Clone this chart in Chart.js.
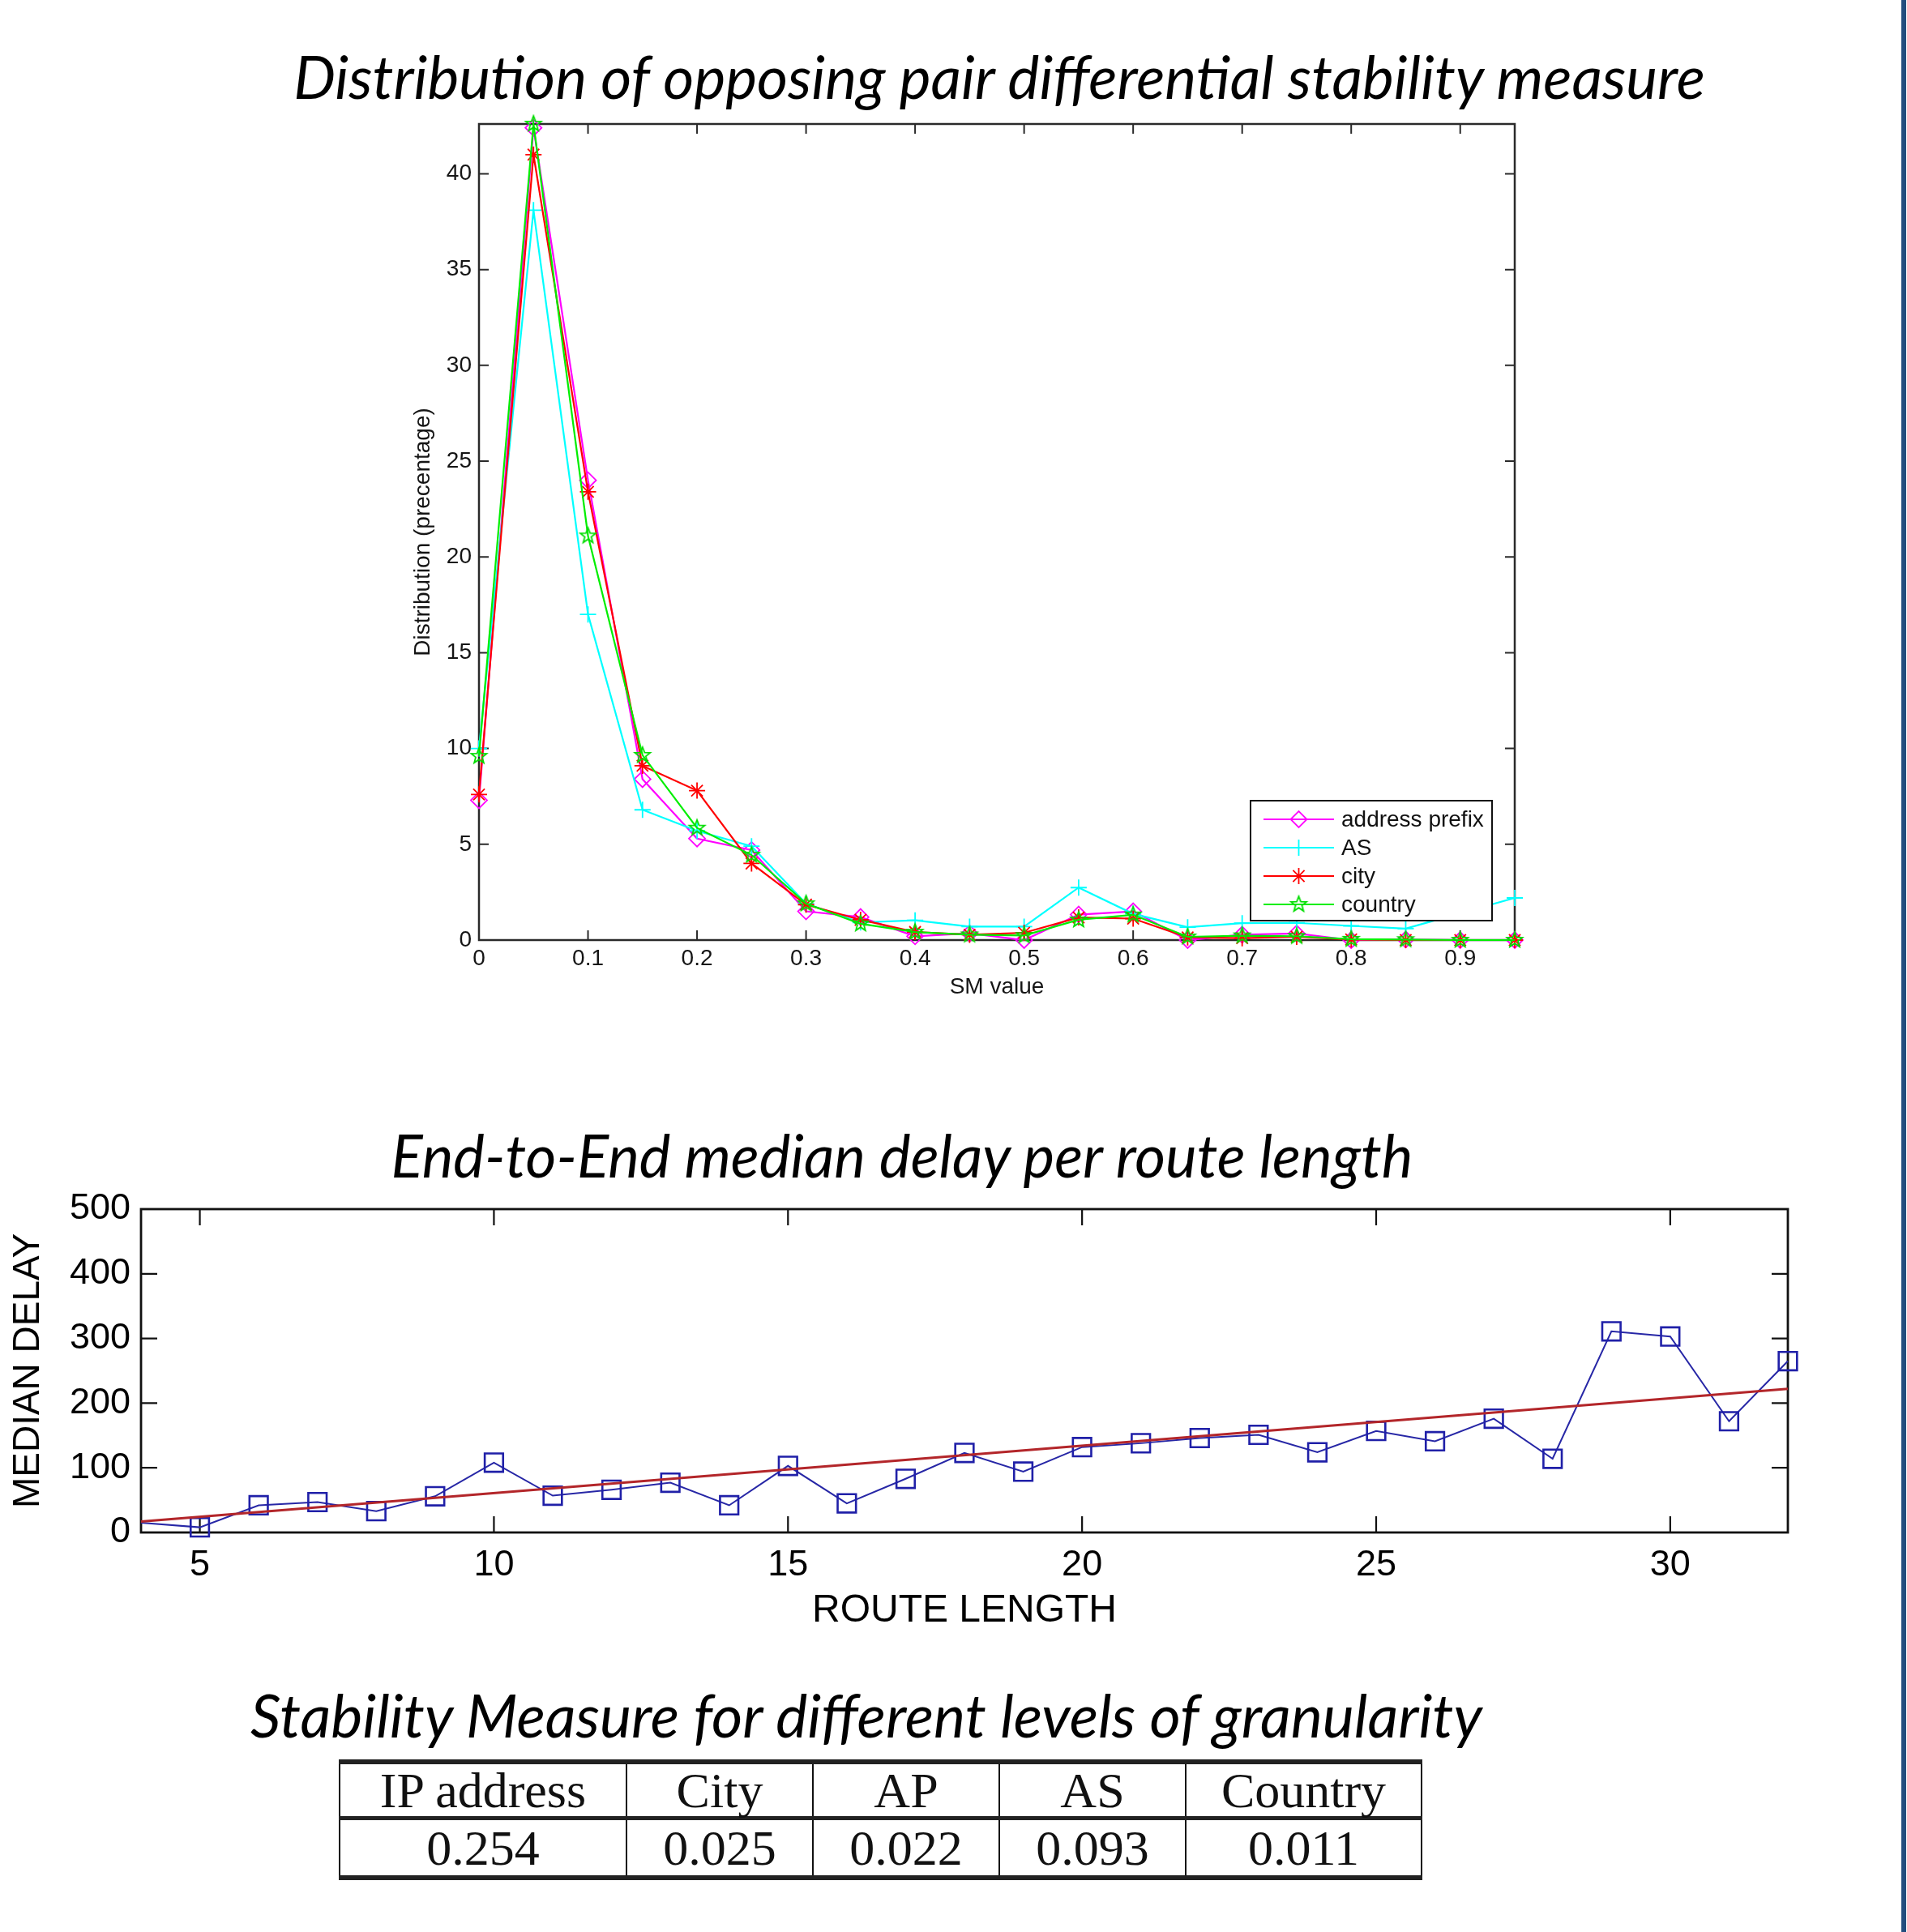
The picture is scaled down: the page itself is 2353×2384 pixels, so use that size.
<!DOCTYPE html>
<html>
<head>
<meta charset="utf-8">
<script src="https://cdn.jsdelivr.net/npm/chart.js@4.4.1/dist/chart.umd.min.js"></script>
<style>
html,body{margin:0;padding:0;background:#fff;}
#page{position:relative;width:2353px;height:2384px;overflow:hidden;background:#fff;}
.ttl{position:absolute;white-space:nowrap;font-family:Lato,'Open Sans',sans-serif;font-style:italic;font-weight:400;color:#000;transform:translate(-50%,-50%);line-height:1.2;}
canvas{position:absolute;left:0;}
#c1{top:0;}
#c2{top:1370px;}
#bar{position:absolute;left:2346px;top:0;width:6px;height:2384px;background:#234d7e;}
#smTable{position:absolute;left:418px;top:2171px;border-collapse:collapse;table-layout:fixed;width:1335px;
  font-family:'Liberation Serif','Times New Roman',serif;font-size:62px;color:#111;
  border-top:6px solid #222;border-bottom:6px solid #222;}
#smTable td{border-left:2.5px solid #111;border-right:2.5px solid #111;text-align:center;padding:0;line-height:1;vertical-align:middle;}
#smTable tr.hdr td{height:64px;border-bottom:5px solid #222;}
#smTable tr.val td{height:68px;}
</style>
</head>
<body>
<div id="page">
  <div class="ttl" id="t1" style="left:1233px;top:94px;" data-w="1742"></div>
  <canvas id="c1" width="2353" height="1270" style="width:2353px;height:1270px;"></canvas>
  <div class="ttl" id="t2" style="left:1113px;top:1426px;" data-w="1261"></div>
  <canvas id="c2" width="2353" height="680" style="width:2353px;height:680px;"></canvas>
  <div class="ttl" id="t3" style="left:1069px;top:2116px;" data-w="1520"></div>
  <table id="smTable"></table>
  <div id="bar"></div>
</div>
<script>
// ---------------- DATA ----------------
const title1 = 'Distribution of opposing pair differential stability measure';
const title2 = 'End-to-End median delay per route length';
const title3 = 'Stability Measure for different levels of granularity';

const smX = [0, 0.05, 0.1, 0.15, 0.2, 0.25, 0.3, 0.35, 0.4, 0.45, 0.5, 0.55, 0.6, 0.65, 0.7, 0.75, 0.8, 0.85, 0.9, 0.95];
const addressPrefix = [7.3, 42.4, 24.0, 8.4, 5.3, 4.7, 1.5, 1.2, 0.2, 0.35, 0.0, 1.33, 1.5, 0.0, 0.28, 0.34, 0.0, 0.03, 0.0, 0.0];
const asLevel       = [10.0, 38.1, 17.0, 6.8, 5.7, 4.9, 1.9, 0.92, 1.03, 0.7, 0.7, 2.74, 1.37, 0.67, 0.88, 0.9, 0.74, 0.6, 1.4, 2.2];
const city          = [7.6, 41.0, 23.4, 9.1, 7.8, 4.0, 1.85, 1.06, 0.42, 0.28, 0.38, 1.18, 1.12, 0.14, 0.1, 0.17, 0.03, 0.0, 0.0, 0.0];
const country       = [9.6, 42.6, 21.1, 9.65, 5.85, 4.44, 1.9, 0.85, 0.42, 0.28, 0.24, 1.06, 1.32, 0.17, 0.23, 0.2, 0.05, 0.03, 0.0, 0.0];
const seriesNames   = ['address prefix', 'AS', 'city', 'country'];
const smXTicks      = [0, 0.1, 0.2, 0.3, 0.4, 0.5, 0.6, 0.7, 0.8, 0.9];
const smXTickLabels = ['0', '0.1', '0.2', '0.3', '0.4', '0.5', '0.6', '0.7', '0.8', '0.9'];
const distYTicks    = [0, 5, 10, 15, 20, 25, 30, 35, 40];
const distYTickLabels = ['0', '5', '10', '15', '20', '25', '30', '35', '40'];

const routeLength = [4, 5, 6, 7, 8, 9, 10, 11, 12, 13, 14, 15, 16, 17, 18, 19, 20, 21, 22, 23, 24, 25, 26, 27, 28, 29, 30, 31, 32];
const medianDelay = [15, 8, 42, 47, 33, 56, 108, 57, 66, 77, 42, 103, 45, 83, 123, 94, 132, 138, 146, 151, 124, 157, 141, 176, 114, 311, 303, 172, 265];
const trendX = [4, 32];
const trendY = [17, 222];
const routeXTicks = [5, 10, 15, 20, 25, 30];
const routeXTickLabels = ['5', '10', '15', '20', '25', '30'];
const delayYTicks = [0, 100, 200, 300, 400, 500];
const delayYTickLabels = ['0', '100', '200', '300', '400', '500'];

const granLevels = ['IP address', 'City', 'AP', 'AS', 'Country'];
const smValues   = ['0.254', '0.025', '0.022', '0.093', '0.011'];

// ---------------- TEXT ----------------
document.getElementById('t1').textContent = title1;
document.getElementById('t2').textContent = title2;
document.getElementById('t3').textContent = title3;
document.querySelectorAll('.ttl').forEach(el => {
  el.style.fontSize = '100px';
  const w = el.getBoundingClientRect().width;
  el.style.fontSize = (100 * (+el.dataset.w) / w).toFixed(2) + 'px';
});

// table
(function () {
  const tb = document.getElementById('smTable');
  const cg = document.createElement('colgroup');
  [354, 230, 230, 230, 291].forEach(w => { const c = document.createElement('col'); c.style.width = w + 'px'; cg.appendChild(c); });
  tb.appendChild(cg);
  const r1 = document.createElement('tr'); r1.className = 'hdr';
  granLevels.forEach(t => { const td = document.createElement('td'); td.textContent = t; r1.appendChild(td); });
  const r2 = document.createElement('tr'); r2.className = 'val';
  smValues.forEach(t => { const td = document.createElement('td'); td.textContent = t; r2.appendChild(td); });
  tb.appendChild(r1); tb.appendChild(r2);
})();

// ---------------- HELPERS ----------------
Chart.defaults.font.family = "'Liberation Sans', Arial, sans-serif";
const toXY = (xs, ys) => xs.map((x, i) => ({ x: x, y: ys[i] }));

function pentagram(color, r, lw) {
  const s = Math.ceil(2 * r + 2 * lw + 2);
  const c = document.createElement('canvas');
  c.width = s; c.height = s;
  const g = c.getContext('2d');
  g.strokeStyle = color; g.lineWidth = lw; g.lineJoin = 'miter';
  g.beginPath();
  for (let i = 0; i < 10; i++) {
    const ang = -Math.PI / 2 + i * Math.PI / 5;
    const rr = (i % 2 === 0) ? r : r * 0.42;
    g.lineTo(s / 2 + rr * Math.cos(ang), s / 2 + rr * Math.sin(ang));
  }
  g.closePath(); g.stroke();
  return c;
}

const framePlugin = {
  id: 'frame',
  beforeDatasetsDraw(chart, args, o) {
    const { ctx, chartArea: a } = chart;
    const xs = chart.scales.x, ys = chart.scales.y;
    ctx.save();
    ctx.strokeStyle = o.color;
    ctx.lineWidth = o.tickWidth;
    ctx.beginPath();
    xs.ticks.forEach(t => {
      const p = xs.getPixelForValue(t.value);
      ctx.moveTo(p, a.bottom); ctx.lineTo(p, a.bottom - o.tickLen);
      ctx.moveTo(p, a.top); ctx.lineTo(p, a.top + o.tickLen);
    });
    ys.ticks.forEach(t => {
      const p = ys.getPixelForValue(t.value);
      ctx.moveTo(a.left, p); ctx.lineTo(a.left + o.tickLen, p);
      ctx.moveTo(a.right, p); ctx.lineTo(a.right - o.tickLen, p);
    });
    ctx.stroke();
    ctx.lineWidth = o.width;
    ctx.strokeRect(a.left, a.top, a.right - a.left, a.bottom - a.top);
    ctx.restore();
  }
};

const boxLegend = {
  id: 'boxLegend',
  afterDatasetsDraw(chart, args, o) {
    const { ctx, chartArea: a } = chart;
    const bx = a.right - o.offRight - o.w, by = a.bottom - o.offBottom - o.h;
    ctx.save();
    ctx.fillStyle = '#fff';
    ctx.fillRect(bx, by, o.w, o.h);
    ctx.strokeStyle = '#111'; ctx.lineWidth = 2;
    ctx.strokeRect(bx, by, o.w, o.h);
    ctx.font = o.font;
    ctx.textBaseline = 'middle'; ctx.textAlign = 'left';
    chart.data.datasets.forEach((ds, i) => {
      const cy = by + o.firstRow + i * o.rowGap;
      ctx.strokeStyle = ds.borderColor; ctx.lineWidth = ds.borderWidth;
      ctx.beginPath(); ctx.moveTo(bx + o.lineX0, cy); ctx.lineTo(bx + o.lineX1, cy); ctx.stroke();
      ctx.fillStyle = 'rgba(0,0,0,0)';
      ctx.lineWidth = ds.pointBorderWidth;
      Chart.helpers.drawPoint(ctx, { pointStyle: ds.pointStyle, radius: ds.pointRadius, rotation: 0, borderWidth: ds.pointBorderWidth }, bx + (o.lineX0 + o.lineX1) / 2, cy);
      ctx.fillStyle = '#111';
      ctx.fillText(ds.label, bx + o.textX, cy + 1);
    });
    ctx.restore();
  }
};

// ---------------- CHART 1 ----------------
const mk = (label, ys, color, style, order) => ({
  label: label, data: toXY(smX, ys), borderColor: color, backgroundColor: 'rgba(0,0,0,0)',
  borderWidth: 2.2, pointStyle: style, pointRadius: 10, pointBorderColor: color,
  pointBackgroundColor: 'rgba(0,0,0,0)', pointBorderWidth: 1.8, tension: 0, clip: false, order: order
});
const tickFont1 = { family: "'Liberation Sans', Arial, sans-serif", size: 28 };

new Chart(document.getElementById('c1'), {
  type: 'line',
  data: {
    datasets: [
      mk(seriesNames[0], addressPrefix, '#ff00ff', 'rectRot', 3),
      mk(seriesNames[1], asLevel, '#00ffff', 'cross', 2),
      mk(seriesNames[2], city, '#ff0000', 'star', 1),
      mk(seriesNames[3], country, '#00ee00', pentagram('#00dd00', 10, 1.8), 0)
    ]
  },
  options: {
    responsive: false, animation: false, devicePixelRatio: 1, events: [],
    layout: { padding: { left: 491, right: 484, top: 153, bottom: 30 } },
    plugins: {
      legend: { display: false }, tooltip: { enabled: false },
      frame: { color: '#2a2a2a', width: 2.5, tickWidth: 2, tickLen: 12 },
      boxLegend: { w: 298, h: 148, offRight: 28, offBottom: 24, firstRow: 23, rowGap: 35,
                   lineX0: 16, lineX1: 103, textX: 112, font: "28px 'Liberation Sans', Arial, sans-serif" }
    },
    scales: {
      x: {
        type: 'linear', min: 0, max: 0.95,
        afterBuildTicks: s => { s.ticks = smXTicks.map(v => ({ value: v })); },
        afterFit: s => { s.height = 80; },
        grid: { display: false, drawTicks: false }, border: { display: false },
        ticks: { padding: 6, color: '#151515', font: tickFont1, maxRotation: 0, autoSkip: false,
                 callback: (v, i) => smXTickLabels[i] },
        title: { display: true, text: 'SM value', color: '#151515', font: tickFont1, padding: { top: 0, bottom: 5 } }
      },
      y: {
        type: 'linear', min: 0, max: 42.6,
        afterBuildTicks: s => { s.ticks = distYTicks.map(v => ({ value: v })); },
        afterFit: s => { s.width = 100; },
        grid: { display: false, drawTicks: false }, border: { display: false },
        ticks: { padding: 9, color: '#151515', font: tickFont1, autoSkip: false,
                 callback: (v, i) => distYTickLabels[i] },
        title: { display: true, text: 'Distribution (precentage)', color: '#151515', font: tickFont1, padding: { top: 14, bottom: 0 } }
      }
    }
  },
  plugins: [framePlugin, boxLegend]
});

// ---------------- CHART 2 ----------------
const tickFont2 = { family: "'Liberation Sans', Arial, sans-serif", size: 45 };
new Chart(document.getElementById('c2'), {
  type: 'line',
  data: {
    datasets: [
      { label: 'median delay', data: toXY(routeLength, medianDelay), borderColor: '#2727a6', backgroundColor: 'rgba(0,0,0,0)',
        borderWidth: 2, pointStyle: 'rect',
        pointRadius: c => (c.raw && c.raw.x === routeLength[0]) ? 0 : 16,
        pointBorderColor: '#2020a8', pointBackgroundColor: 'rgba(0,0,0,0)', pointBorderWidth: 2.6,
        tension: 0, clip: false, order: 1 },
      { label: 'linear fit', data: toXY(trendX, trendY), borderColor: '#b3262a', backgroundColor: 'rgba(0,0,0,0)',
        borderWidth: 3, pointRadius: 0, tension: 0, clip: false, order: 0 }
    ]
  },
  options: {
    responsive: false, animation: false, devicePixelRatio: 1, events: [],
    layout: { padding: { left: 0, right: 147, top: 122, bottom: 29 } },
    plugins: {
      legend: { display: false }, tooltip: { enabled: false },
      frame: { color: '#111', width: 2.8, tickWidth: 2.2, tickLen: 20 }
    },
    scales: {
      x: {
        type: 'linear', min: 4, max: 32,
        afterBuildTicks: s => { s.ticks = routeXTicks.map(v => ({ value: v })); },
        afterFit: s => { s.height = 130; },
        grid: { display: false, drawTicks: false }, border: { display: false },
        ticks: { padding: 14, color: '#000', font: tickFont2, maxRotation: 0, autoSkip: false,
                 callback: (v, i) => routeXTickLabels[i] },
        title: { display: true, text: 'ROUTE LENGTH', color: '#000', font: { family: "'Liberation Sans', Arial, sans-serif", size: 48 }, padding: { top: 0, bottom: 4 } }
      },
      y: {
        type: 'linear', min: 0, max: 500,
        afterBuildTicks: s => { s.ticks = delayYTicks.map(v => ({ value: v })); },
        afterFit: s => { s.width = 174; },
        grid: { display: false, drawTicks: false }, border: { display: false },
        ticks: { padding: 13, color: '#000', font: tickFont2, autoSkip: false,
                 callback: (v, i) => delayYTickLabels[i] },
        title: { display: true, text: 'MEDIAN DELAY', color: '#000', font: { family: "'Liberation Sans', Arial, sans-serif", size: 46 }, padding: { top: 8, bottom: 0 } }
      }
    }
  },
  plugins: [framePlugin]
});
</script>
</body>
</html>
